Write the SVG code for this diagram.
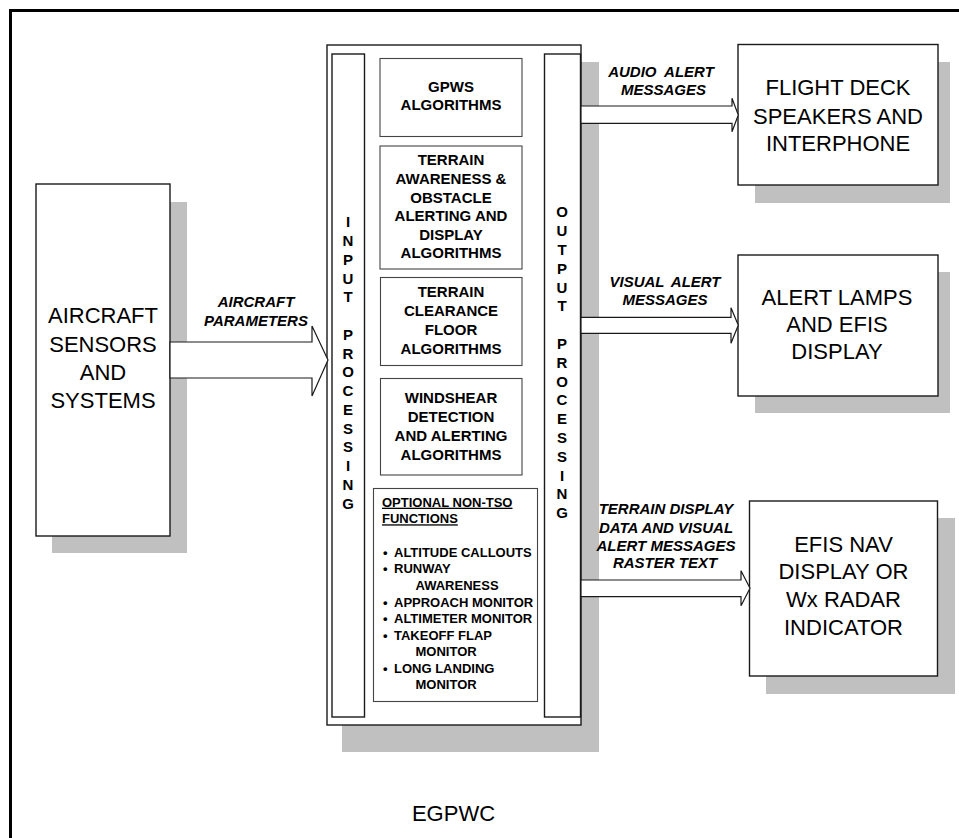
<svg xmlns="http://www.w3.org/2000/svg" width="959" height="838" viewBox="0 0 959 838">
<style>
text{font-family:"Liberation Sans",Arial,sans-serif;fill:#000}
.big{font-size:22px;text-anchor:middle}
.alg{font-size:15px;font-weight:bold;text-anchor:middle}
.vert{font-size:15px;font-weight:bold;text-anchor:middle}
.opt{font-size:13px;font-weight:bold}
.lbl{font-size:15px;font-weight:bold;font-style:italic;text-anchor:middle}
.shadow{fill:#c0c0c0;stroke:none}
.box{fill:#fff;stroke:#1a1a1a;stroke-width:1.4}
.inner{fill:#fff;stroke:#444;stroke-width:1.1}
.arrow{fill:#fff;stroke:#1a1a1a;stroke-width:1.2;stroke-linejoin:miter}
</style>
<rect width="959" height="838" fill="#fff"/>
<rect x="10.5" y="10.5" width="960" height="840" fill="none" stroke="#000" stroke-width="3"/>

<g id="sensors">
<rect class="shadow" x="52" y="202" width="135" height="351"/>
<rect class="box" x="36" y="184" width="134" height="352"/>
<text class="big" x="103" y="323">AIRCRAFT</text>
<text class="big" x="103" y="352">SENSORS</text>
<text class="big" x="103" y="380">AND</text>
<text class="big" x="103" y="408">SYSTEMS</text>
</g>

<g id="egpwc">
<rect class="shadow" x="342" y="62" width="257" height="690"/>
<rect class="box" x="327" y="45" width="254" height="680"/>
<g id="input-processing">
<rect class="box" x="332" y="54" width="32.5" height="663"/>
<text class="vert" x="348" y="227.4">I</text>
<text class="vert" x="348" y="246.2">N</text>
<text class="vert" x="348" y="264.9">P</text>
<text class="vert" x="348" y="283.7">U</text>
<text class="vert" x="348" y="302.4">T</text>
<text class="vert" x="348" y="339.9">P</text>
<text class="vert" x="348" y="358.7">R</text>
<text class="vert" x="348" y="377.4">O</text>
<text class="vert" x="348" y="396.2">C</text>
<text class="vert" x="348" y="414.9">E</text>
<text class="vert" x="348" y="433.7">S</text>
<text class="vert" x="348" y="452.4">S</text>
<text class="vert" x="348" y="471.2">I</text>
<text class="vert" x="348" y="489.9">N</text>
<text class="vert" x="348" y="508.7">G</text>
</g>
<g id="output-processing">
<rect class="box" x="544.5" y="54" width="36" height="663"/>
<text class="vert" x="562" y="217.4">O</text>
<text class="vert" x="562" y="236.2">U</text>
<text class="vert" x="562" y="255">T</text>
<text class="vert" x="562" y="273.8">P</text>
<text class="vert" x="562" y="292.6">U</text>
<text class="vert" x="562" y="311.4">T</text>
<text class="vert" x="562" y="349">P</text>
<text class="vert" x="562" y="367.8">R</text>
<text class="vert" x="562" y="386.6">O</text>
<text class="vert" x="562" y="405.4">C</text>
<text class="vert" x="562" y="424.2">E</text>
<text class="vert" x="562" y="443">S</text>
<text class="vert" x="562" y="461.8">S</text>
<text class="vert" x="562" y="480.6">I</text>
<text class="vert" x="562" y="499.4">N</text>
<text class="vert" x="562" y="518.2">G</text>
</g>
<g id="gpws">
<rect class="inner" x="380" y="58.5" width="142" height="78"/>
<text class="alg" x="451" y="92.3">GPWS</text>
<text class="alg" x="451" y="110">ALGORITHMS</text>
</g>
<g id="terrain-awareness">
<rect class="inner" x="380" y="146" width="142" height="123"/>
<text class="alg" x="451" y="165">TERRAIN</text>
<text class="alg" x="451" y="184">AWARENESS &amp;</text>
<text class="alg" x="451" y="202.5">OBSTACLE</text>
<text class="alg" x="451" y="221">ALERTING AND</text>
<text class="alg" x="451" y="239.5">DISPLAY</text>
<text class="alg" x="451" y="258.3">ALGORITHMS</text>
</g>
<g id="terrain-clearance">
<rect class="inner" x="380.5" y="277.5" width="141.5" height="88"/>
<text class="alg" x="451" y="297.3">TERRAIN</text>
<text class="alg" x="451" y="316">CLEARANCE</text>
<text class="alg" x="451" y="335">FLOOR</text>
<text class="alg" x="451" y="354">ALGORITHMS</text>
</g>
<g id="windshear">
<rect class="inner" x="380.5" y="378.5" width="141.5" height="96.5"/>
<text class="alg" x="451" y="403.3">WINDSHEAR</text>
<text class="alg" x="451" y="422.3">DETECTION</text>
<text class="alg" x="451" y="441">AND ALERTING</text>
<text class="alg" x="451" y="459.5">ALGORITHMS</text>
</g>
<g id="optional">
<rect class="inner" x="373.5" y="488.5" width="164" height="213"/>
<text class="opt" x="382" y="506.7" text-decoration="underline">OPTIONAL NON-TSO</text>
<text class="opt" x="382" y="523.3" text-decoration="underline">FUNCTIONS</text>
<text class="opt" x="383" y="556.7">•</text><text class="opt" x="394" y="556.7">ALTITUDE CALLOUTS</text>
<text class="opt" x="383" y="573.3">•</text><text class="opt" x="394" y="573.3">RUNWAY</text>
<text class="opt" x="415.5" y="590">AWARENESS</text>
<text class="opt" x="383" y="606.5">•</text><text class="opt" x="394" y="606.5">APPROACH MONITOR</text>
<text class="opt" x="383" y="623">•</text><text class="opt" x="394" y="623">ALTIMETER MONITOR</text>
<text class="opt" x="383" y="639.5">•</text><text class="opt" x="394" y="639.5">TAKEOFF FLAP</text>
<text class="opt" x="415.5" y="656">MONITOR</text>
<text class="opt" x="383" y="672.7">•</text><text class="opt" x="394" y="672.7">LONG LANDING</text>
<text class="opt" x="415.5" y="689.3">MONITOR</text>
</g>
<text class="big" x="453.5" y="821">EGPWC</text>
</g>

<g id="speakers">
<rect class="shadow" x="755" y="62" width="195" height="141"/>
<rect class="box" x="738" y="44.5" width="200" height="140.5"/>
<text class="big" x="838" y="95">FLIGHT DECK</text>
<text class="big" x="838" y="124">SPEAKERS AND</text>
<text class="big" x="838" y="150.7">INTERPHONE</text>
</g>

<g id="lamps">
<rect class="shadow" x="755" y="272" width="195" height="141"/>
<rect class="box" x="738" y="255" width="200" height="141"/>
<text class="big" x="837" y="305">ALERT LAMPS</text>
<text class="big" x="837" y="331.7">AND EFIS</text>
<text class="big" x="837" y="359.3">DISPLAY</text>
</g>

<g id="efis-nav">
<rect class="shadow" x="766" y="518" width="189" height="176"/>
<rect class="box" x="749.5" y="501" width="188" height="175"/>
<text class="big" x="843.5" y="551.7">EFIS NAV</text>
<text class="big" x="843.5" y="579.3">DISPLAY OR</text>
<text class="big" x="843.5" y="606.7">Wx RADAR</text>
<text class="big" x="843.5" y="635">INDICATOR</text>
</g>

<g id="connectors">
<polygon class="arrow" points="170,342 312,342 312,326 328,360 312,396 312,378 170,378"/>
<text class="lbl" x="256" y="307">AIRCRAFT</text>
<text class="lbl" x="256" y="325.5">PARAMETERS</text>

<polygon class="arrow" points="581,106 732,106 732,98.3 738.3,115 732,131.7 732,123.3 581,123.3"/>
<text class="lbl" x="661" y="76.7" word-spacing="4">AUDIO ALERT</text>
<text class="lbl" x="663.5" y="95">MESSAGES</text>

<polygon class="arrow" points="581,317.3 731,317.3 731,307.7 738.3,325.3 731,343.3 731,333.3 581,333.3"/>
<text class="lbl" x="665" y="286.7" word-spacing="3">VISUAL ALERT</text>
<text class="lbl" x="665" y="305">MESSAGES</text>

<polygon class="arrow" points="581,580 741,580 741,570.7 750,588.3 741,605.7 741,596.7 581,596.7"/>
<text class="lbl" x="666" y="514">TERRAIN DISPLAY</text>
<text class="lbl" x="666" y="532.7">DATA AND VISUAL</text>
<text class="lbl" x="666" y="551">ALERT MESSAGES</text>
<text class="lbl" x="665" y="568.3">RASTER TEXT</text>
</g>
</svg>
